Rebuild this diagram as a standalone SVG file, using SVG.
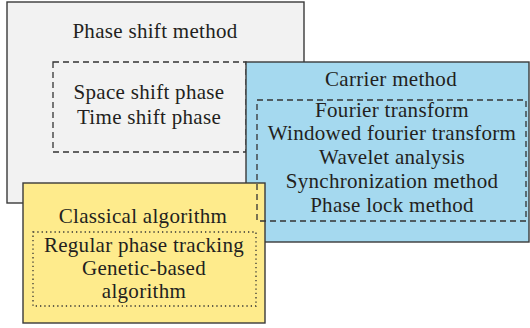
<svg xmlns="http://www.w3.org/2000/svg" width="530" height="328" viewBox="0 0 530 328">
<style>
.box{stroke:#3a3a3a;stroke-width:1.4}
.dash{fill:none;stroke:#333;stroke-width:1.3;stroke-dasharray:6 4}
.dot{fill:none;stroke:#333;stroke-width:1.3;stroke-dasharray:1.3 3}
text{font-family:"Liberation Serif","Times New Roman",serif;font-size:21px;letter-spacing:0.3px;fill:#231f20;text-anchor:middle}
</style>
<rect width="530" height="328" fill="#fff"/>
<g id="phase-shift">
<rect class="box" x="7" y="2" width="297" height="201" fill="#f2f2f2"/>
<rect class="dash" x="53" y="62" width="193" height="90"/>
<text x="155" y="38">Phase shift method</text>
<text x="149" y="99">Space shift phase</text>
<text x="149" y="124">Time shift phase</text>
</g>
<g id="carrier">
<rect class="box" x="246" y="62" width="283" height="180" fill="#a5d9ef"/>
<text x="391" y="86">Carrier method</text>
<text x="392" y="117">Fourier transform</text>
<text x="392" y="140">Windowed fourier transform</text>
<text x="392" y="164">Wavelet analysis</text>
<text x="392" y="188">Synchronization method</text>
<text x="392" y="212">Phase lock method</text>
</g>
<g id="classical">
<rect class="box" x="23" y="183" width="242" height="140" fill="#feeb8c"/>
<rect class="dot" x="33" y="232" width="223" height="74"/>
<text x="143" y="223">Classical algorithm</text>
<text x="144" y="252">Regular phase tracking</text>
<text x="144" y="275">Genetic-based</text>
<text x="144" y="298">algorithm</text>
</g>
<g id="carrier-inner">
<rect class="dash" x="257" y="100" width="269" height="121"/>
</g>
<g id="connectors"></g>
</svg>
